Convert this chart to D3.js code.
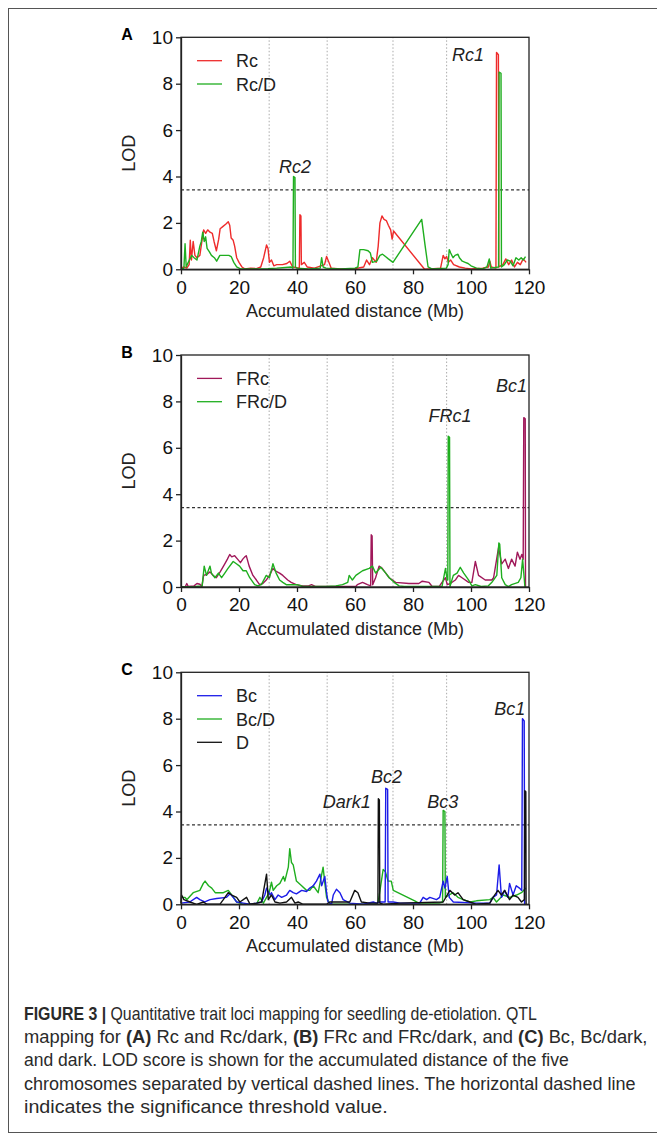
<!DOCTYPE html>
<html><head><meta charset="utf-8">
<script src="https://cdn.jsdelivr.net/npm/d3@7"></script>
<style>
body{margin:0;background:#fff}
svg{display:block;font-family:"Liberation Sans",Arial,sans-serif}
</style></head>
<body><svg id="fig" width="657" height="1136"></svg>
<script>
// chromosome boundaries (accumulated Mb) and LOD threshold
const chrBounds = [30.4, 50.4, 73.1, 91.6];
const threshold = 3.42;
const xTicks = [0, 20, 40, 60, 80, 100, 120];
const yTicks = [0, 2, 4, 6, 8, 10];

// A: Rc, Rc/D
const rc = [[0,0.05],[1,0.1],[2,0.05],[2.8,0.2],[3.2,1.25],[3.6,0.4],[4.2,1.2],[4.8,0.6],[5.5,0.5],[6.5,0.6],[7.2,1.2],[7.8,1.7],[8.5,1.55],[9.2,1.7],[10,1.6],[10.8,1.55],[11.4,1.2],[12.2,0.8],[13,1.3],[13.5,1.75],[14.5,1.85],[15.5,1.95],[16.3,2.05],[16.8,1.9],[17.3,1.35],[18,1.25],[18.5,1.0],[19.2,0.5],[20,0.3],[21,0.1],[22,0.02],[24,0.05],[26,0.03],[27.5,0.1],[28.5,0.5],[29.5,1.05],[30,0.9],[30.5,0.3],[31.2,0.4],[32,0.15],[33,0.2],[35,0.2],[36.5,0.25],[37.5,0.35],[38.5,0.1],[40.8,0.05],[41.0,2.35],[41.35,2.3],[41.5,0.2],[42.5,0.3],[43.5,0.1],[46,0.05],[49.5,0.2],[50.2,0.55],[51,0.3],[51.8,0.05],[55,0.02],[60,0.03],[63,0.1],[64,0.4],[65,0.2],[66,0.5],[67.3,0.3],[68,1.0],[68.6,2.0],[69.3,2.3],[70,2.15],[70.8,2.1],[71.5,1.9],[72.3,1.7],[72.8,1.3],[73.3,1.65],[84,0.0],[86,0.02],[89.5,0.05],[90.4,0.6],[91,0.45],[91.6,0.55],[92.2,0.3],[93,0.4],[94,0.2],[96,0.1],[98,0.05],[100,0.02],[104,0.05],[106,0.1],[106.5,0.35],[107,0.1],[108.6,0.05],[108.8,9.35],[109.45,9.25],[109.6,0.1],[111,0.2],[112,0.45],[113,0.2],[114,0.4],[115,0.1],[116,0.3],[117,0.2],[118,0.45],[119,0.3]];
const rcD = [[0,0],[1,0.05],[1.4,1.1],[1.8,0.1],[2.5,0.3],[3.7,0.6],[4.5,0.5],[5.5,0.4],[6.5,1.0],[7,1.2],[7.5,1.6],[8,1.2],[8.5,1.4],[9,0.9],[9.8,0.75],[10.5,0.6],[11.5,0.5],[12.3,0.35],[13.4,0.6],[15,0.6],[16.5,0.6],[17.3,0.55],[18.2,0.3],[19.2,0.1],[20.5,0.02],[25,0.02],[30,0.03],[33,0.05],[38,0.1],[38.6,0.05],[38.8,4.0],[39.3,3.95],[39.45,0.1],[40,0.05],[44,0.02],[48,0.05],[48.5,0.5],[49,0.1],[50,0.05],[55,0.02],[60,0.05],[61,0.1],[61.7,0.85],[63,0.85],[64.5,0.8],[65.3,0.7],[66,0.3],[67.5,0.35],[68.6,0.6],[69.5,0.65],[70.5,0.55],[71.5,0.45],[73.1,0.3],[83,2.15],[84.2,1.0],[85.2,0.1],[86.5,0.02],[91.5,0.05],[92.1,0.2],[92.5,0.85],[93,0.7],[93.8,0.5],[94.5,0.6],[95.5,0.65],[96,0.5],[97,0.35],[98,0.3],[99,0.25],[100,0.15],[101.9,0.05],[104,0.02],[105.5,0.1],[106.3,0.45],[106.8,0.05],[109.5,0.1],[109.7,8.5],[110.35,8.45],[110.5,0.1],[111.5,0.2],[112.5,0.4],[113.5,0.35],[114.5,0.15],[115.5,0.5],[116.5,0.4],[117.3,0.5],[118,0.4],[118.8,0.55]];

// B: FRc, FRc/D
const frc = [[0,0],[1.5,0.02],[2,0.15],[2.5,0.02],[4.5,0.05],[5.5,0.15],[6.5,0.12],[7.2,0.02],[7.8,0.5],[9,0.55],[10,0.65],[11,0.5],[12.2,0.4],[13.5,0.65],[15.1,1.0],[16,1.2],[16.8,1.4],[17.5,1.3],[18.5,1.35],[19.5,1.2],[20.5,1.05],[21.3,1.2],[22,1.3],[22.5,1.35],[23.5,0.9],[24.8,0.5],[26,0.3],[27.1,0.1],[28.2,0.15],[29.4,0.3],[30.5,0.5],[31.7,0.8],[32.5,0.7],[34,0.6],[35.1,0.5],[36.8,0.3],[38,0.2],[39.7,0.1],[42,0.05],[44,0.05],[45,0.1],[46.5,0.02],[50,0.02],[55,0.02],[60.3,0.02],[60.8,0.1],[62.6,0.2],[64.3,0.1],[65.4,0.05],[65.6,2.25],[65.9,2.2],[66.1,0.1],[67.1,0.4],[68.3,0.9],[69.4,0.8],[70.6,0.6],[71.8,0.4],[74,0.2],[78.6,0.15],[82,0.15],[83.2,0.25],[85.5,0.2],[86.6,0.02],[89,0.02],[90,0.2],[91.2,0.4],[91.8,0.1],[92.9,0.15],[94.6,0.3],[95.7,0.5],[96.9,0.4],[99.2,0.2],[100.3,0.2],[101.5,1.1],[102.6,0.5],[104.9,0.3],[107.2,0.3],[107.8,0.4],[109.5,1.7],[110.6,1.0],[111.8,1.2],[112.9,0.8],[114,1.2],[115.2,0.9],[116,1.5],[116.9,1.2],[117.5,1.4],[118.0,1.2],[118.2,7.3],[118.7,7.25],[118.8,0]];
const frcD = [[0,0],[5,0.02],[7.3,0.05],[8,0.9],[8.8,0.5],[10,0.9],[10.5,0.6],[11.7,0.4],[12.9,0.6],[14,0.4],[15.1,0.6],[16.2,0.8],[18,1.1],[19.1,1.0],[20.2,0.9],[21.4,0.7],[22.5,0.7],[23.7,0.4],[25.4,0.1],[26.5,0.05],[27.7,0.1],[29.4,0.5],[30.5,0.4],[31.7,1.0],[32.8,0.6],[34,0.3],[35.1,0.2],[36.3,0.1],[40,0.1],[42,0.02],[50,0.02],[53.4,0.05],[55.7,0.1],[57.5,0.2],[58,0.5],[59.1,0.3],[60.3,0.5],[62.6,0.7],[64.9,0.8],[66,0.9],[67.1,0.6],[68.9,0.85],[70.6,0.6],[71.8,0.4],[73.5,0.2],[75.2,0.05],[77,0.02],[90,0.02],[91.2,0.8],[91.8,0.3],[92.0,0.3],[92.15,6.5],[92.6,6.45],[92.75,0.02],[93.9,0.5],[95.2,0.6],[96.3,0.85],[97.5,0.6],[99.2,0.3],[100.3,0.05],[101.5,0.1],[103.5,0.02],[106,0.05],[107.2,0.2],[108.9,0.5],[109.6,1.9],[109.9,1.85],[110.6,0.4],[111.8,0.1],[112.9,0.02],[114,0.1],[116.3,0.2],[117.2,0.4],[117.8,1.2],[118.6,0]];

// C: Bc, Bc/D, D
const bc = [[0,0.05],[3,0.1],[5.4,0.3],[6.5,0.2],[8.2,0.1],[10,0.2],[12.3,0.25],[15.7,0.3],[16.9,0.45],[18,0.3],[19.2,0.1],[21.5,0.05],[23.8,0],[26.1,0.05],[27.8,0.1],[28.9,0.4],[29.5,0.7],[30.7,0.4],[31.2,0.5],[32.4,0.2],[33.5,0.4],[34.7,0.3],[36.4,0.4],[37.5,0.6],[38.7,0.5],[39.8,0.45],[41.6,0.6],[43.3,0.55],[44.4,0.7],[45.6,0.8],[46.7,1.0],[47.9,1.3],[48.5,0.8],[49.6,1.2],[50.2,0.5],[50.7,0.1],[51.9,0],[52.5,0.4],[53.6,0.65],[54.8,0.5],[55.9,0.2],[58.2,0.05],[62.8,0],[66.3,0.1],[67.4,0.05],[68.6,0.1],[70.4,0.1],[70.6,5.0],[71.25,4.95],[71.4,0.1],[73.2,0.1],[75.5,0.05],[78.9,0.05],[82.3,0.05],[83.5,0.3],[84.7,0.2],[85.8,0.3],[88.1,0.2],[89.2,0.3],[90.4,1.0],[91,0.7],[91.8,1.2],[92.5,0.3],[93.9,0.1],[101.9,0.05],[106.5,0.05],[107.6,0.3],[108.8,0.4],[109.7,1.7],[110.5,0.3],[111.6,0.6],[112.7,0.3],[113.3,0.9],[114.5,0.4],[115.6,0.8],[116.7,0.7],[117.5,0.6],[117.75,8.0],[118.35,7.9],[118.5,0]];
const bcD = [[0,0.3],[1.4,0.3],[2,0.2],[4.2,0.5],[6.5,0.6],[7.7,0.9],[8.3,1.0],[9.5,0.8],[10.6,0.7],[11.8,0.5],[14.6,0.5],[16.3,0.6],[17.5,0.4],[19.2,0.1],[21.5,0],[26,0],[27.2,0.3],[28.4,0.05],[29.5,0.3],[30.4,0.5],[31.2,0.95],[31.8,0.6],[33,0.8],[34.1,0.9],[35.3,1.2],[35.8,1.0],[37,1.6],[37.5,2.4],[38.1,1.8],[38.7,1.7],[39.8,1.0],[41.6,0.8],[43.3,0.6],[44.4,0.6],[45.6,0.8],[47.3,0.5],[49,1.6],[49.6,0.9],[50.2,0.3],[51.3,0],[60,0],[67.5,0],[68,0.1],[69.1,1.0],[69.7,1.5],[70.5,1.4],[71.4,1.0],[72.5,1.0],[73.2,0.6],[80.6,0.15],[82,0.05],[89,0.05],[90.2,0.1],[90.4,4.05],[91.0,4.0],[91.15,0.3],[92.5,0.4],[93.8,0.5],[95.5,0.3],[97.3,0.2],[99.6,0.1],[101.9,0.15],[106.5,0.2],[107.6,0.3],[108.8,0.1],[111.1,0.4],[113.4,0.3],[115.7,0.4],[117.4,0.5],[118.9,0.7]];
const dark = [[0,0.05],[0.2,0.4],[1,0.2],[3.1,0.1],[5.4,0],[7.7,0.1],[9,0],[13.4,0],[14.6,0.2],[16.3,0.5],[17.5,0.4],[19.2,0.3],[20.3,0.1],[22.6,0.3],[23.8,0],[26.1,0.05],[27.8,0.1],[29.5,1.3],[30.1,0.2],[31.2,0.4],[32.4,0.1],[34.1,0.05],[36.4,0.1],[38.1,0.3],[39.3,0.05],[40.4,0.1],[42.1,0],[50.2,0],[51.3,0.1],[58.2,0.1],[59.9,0.6],[61,0.5],[62.2,0.1],[65,0.05],[67.9,0.05],[68.05,4.55],[68.4,4.5],[68.55,0.05],[70,0],[75.5,0.05],[90.4,0.1],[92.7,0.6],[94.4,0.4],[95.5,0.5],[97.3,0.2],[99.6,0.1],[101.9,0],[106.5,0.05],[107.6,0.3],[109.3,0.6],[110.5,0.4],[111.6,0.6],[113.3,0.2],[114.5,0.4],[116.2,0.3],[117.4,0.1],[118.4,0.2],[118.55,4.9],[118.9,4.85],[119.0,0]];

// QTL labels (Mb, LOD)
const notesA = [{t:"Rc2", x:39.3, y:4.42}, {t:"Rc1", x:99, y:9.24}];
const notesB = [{t:"FRc1", x:92.8, y:7.41}, {t:"Bc1", x:114, y:8.7}];
const notesC = [{t:"Dark1", x:57.2, y:4.44}, {t:"Bc2", x:70.9, y:5.51}, {t:"Bc3", x:90.3, y:4.44}, {t:"Bc1", x:113.4, y:8.45}];

const RED = "#ee2b2b", GREEN = "#1fae1f", MAROON = "#a0185a", BLUE = "#1c1ce8", BLACK = "#111";

const panels = [
	{id:"A", top:37.3, notes:notesA, series:[{name:"Rc", c:RED, d:rc}, {name:"Rc/D", c:GREEN, d:rcD}]},
	{id:"B", top:355, notes:notesB, series:[{name:"FRc", c:MAROON, d:frc}, {name:"FRc/D", c:GREEN, d:frcD}]},
	{id:"C", top:672.3, notes:notesC, legendOrder:["Bc","Bc/D","D"],
		series:[{name:"Bc/D", c:GREEN, d:bcD}, {name:"Bc", c:BLUE, d:bc}, {name:"D", c:BLACK, d:dark}]},
];

const svg = d3.select("#fig");
const left = 181, right = 529, h = 232;

// outer frame
svg.append("rect").attr("x", 8.5).attr("y", 8.5).attr("width", 660).attr("height", 1124)
	.attr("fill", "none").attr("stroke", "#555").attr("stroke-width", 1);

const x = d3.scaleLinear().domain([0, 120]).range([left, right]);

panels.forEach(p => {
	const y = d3.scaleLinear().domain([0, 10]).range([p.top + h, p.top]);
	const g = svg.append("g");

	// chromosome separators
	g.selectAll("line.chr").data(chrBounds).join("line").attr("class", "chr")
		.attr("x1", d => x(d)).attr("x2", d => x(d)).attr("y1", y(0)).attr("y2", y(10))
		.attr("stroke", "#aaa").attr("stroke-width", 1).attr("stroke-dasharray", "1.5,2");

	// threshold
	g.append("line").attr("x1", x(0)).attr("x2", x(120)).attr("y1", y(threshold)).attr("y2", y(threshold))
		.attr("stroke", "#333").attr("stroke-width", 1.3).attr("stroke-dasharray", "3,2.5");

	const line = d3.line().x(d => x(d[0])).y(d => y(d[1]));
	g.selectAll("path.s").data(p.series).join("path").attr("class", "s")
		.attr("d", s => line(s.d)).attr("fill", "none").attr("stroke", s => s.c)
		.attr("stroke-width", 1.4).attr("stroke-linejoin", "round");

	// box
	g.append("rect").attr("x", x(0)).attr("y", y(10)).attr("width", x(120) - x(0)).attr("height", y(0) - y(10))
		.attr("fill", "none").attr("stroke", "#222").attr("stroke-width", 1.3);

	const ax = g.append("g").attr("transform", `translate(0,${y(0)})`)
		.call(d3.axisBottom(x).tickValues(xTicks).tickSize(5).tickSizeOuter(0).tickPadding(6));
	const ay = g.append("g").attr("transform", `translate(${x(0)},0)`)
		.call(d3.axisLeft(y).tickValues(yTicks).tickSize(5).tickSizeOuter(0).tickPadding(3));
	[ax, ay].forEach(a => {
		a.select(".domain").attr("stroke", "#222").attr("stroke-width", 1.3);
		a.selectAll(".tick line").attr("stroke", "#222").attr("stroke-width", 1.3);
		a.selectAll(".tick text").attr("font-size", 19).attr("fill", "#111")
			.attr("font-family", '"Liberation Sans",Arial,sans-serif');
	});

	g.append("text").attr("x", (left + right) / 2).attr("y", y(0) + 47.5).attr("text-anchor", "middle")
		.attr("font-size", 18).attr("fill", "#222").text("Accumulated distance (Mb)");
	g.append("text").attr("transform", `translate(135,${(y(0) + y(10)) / 2}) rotate(-90)`)
		.attr("text-anchor", "middle").attr("font-size", 18).attr("fill", "#222").text("LOD");
	g.append("text").attr("x", 127).attr("y", y(10) + 3).attr("text-anchor", "middle")
		.attr("font-size", 16).attr("font-weight", "bold").text(p.id);

	// legend
	const order = p.legendOrder || p.series.map(s => s.name);
	const leg = g.selectAll("g.leg").data(order.map(n => p.series.find(s => s.name === n))).join("g")
		.attr("transform", (s, i) => `translate(0,${y(10) + 23.4 + i * 23.3})`);
	leg.append("line").attr("x1", 197).attr("x2", 222).attr("stroke", s => s.c).attr("stroke-width", 1.3);
	leg.append("text").attr("x", 236).attr("y", 6.5).attr("font-size", 18).attr("fill", "#222").text(s => s.name);

	// QTL names
	g.selectAll("text.note").data(p.notes).join("text").attr("class", "note")
		.attr("x", d => x(d.x)).attr("y", d => y(d.y) + 6.5).attr("text-anchor", "middle")
		.attr("font-size", 18).attr("font-style", "italic").attr("fill", "#222").text(d => d.t);
});

// caption; each line is squeezed horizontally to the width it has in the figure
const caption = [
	[["FIGURE 3 | ", true], ["Quantitative trait loci mapping for seedling de-etiolation. QTL", false]],
	[["mapping for ", false], ["(A)", true], [" Rc and Rc/dark, ", false], ["(B)", true], [" FRc and FRc/dark, and ", false], ["(C)", true], [" Bc, Bc/dark,", false]],
	[["and dark. LOD score is shown for the accumulated distance of the five", false]],
	[["chromosomes separated by vertical dashed lines. The horizontal dashed line", false]],
	[["indicates the significance threshold value.", false]],
];
const capWidths = [513, 624, 545, 612, 364];
const capX = 24;
const cap = svg.append("g").attr("font-size", 18.5).attr("fill", "#2a2a2a");
caption.forEach((ln, i) => {
	const t = cap.append("text").attr("x", 0).attr("y", 0);
	ln.forEach(([s, b]) => t.append("tspan").attr("font-weight", b ? "bold" : null).text(s));
	const w = t.node().getComputedTextLength();
	const k = w > 0 ? capWidths[i] / w : 1;
	t.attr("transform", `translate(${capX},${1019.5 + i * 23.4}) scale(${k},1)`);
});
</script></body></html>
